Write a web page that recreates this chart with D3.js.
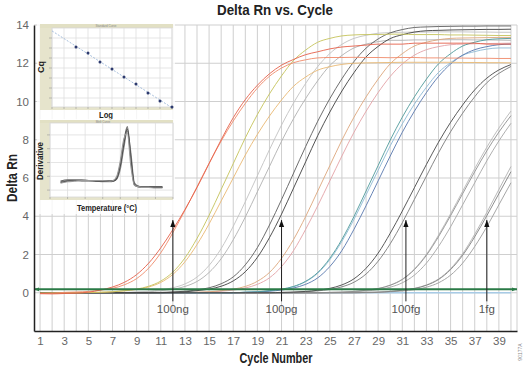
<!DOCTYPE html>
<html>
<head>
<meta charset="utf-8">
<script src="https://cdn.jsdelivr.net/npm/d3@7"></script>
<style>
  body { margin: 0; background: #fff; }
  svg { display: block; font-family: "Liberation Sans", Arial, sans-serif; }
</style>
</head>
<body>
<svg id="chart" width="526" height="368"></svg>
<script>
'use strict'

// ---- data ----
const cycles = [1,2,3,4,5,6,7,8,9,10,11,12,13,14,15,16,17,18,19,20,21,22,23,24,25,26,27,28,29,30,31,32,33,34,35,36,37,38,39,40]
const xTickLabels = [1,3,5,7,9,11,13,15,17,19,21,23,25,27,29,31,33,35,37,39]
const yTickLabels = [0,2,4,6,8,10,12,14]

const d100ngA = [-0.05,-0.06,-0.04,-0.02,0.03,0.14,0.3,0.55,0.95,1.55,2.35,3.3,4.35,5.5,6.75,8.0,9.15,10.1,10.85,11.45,11.9,12.2,12.45,12.6,12.75,12.85,12.9,12.95,13.0,13.0,13.0,13.05,13.05,13.05,13.05,13.05,13.05,13.0,13.0,13.0]
const d100ngB = [-0.04,-0.03,0.02,0.04,0.07,0.14,0.23,0.42,0.74,1.29,2.09,3.14,4.31,5.54,6.77,7.93,8.98,9.9,10.7,11.32,11.75,12.03,12.18,12.28,12.3,12.3,12.31,12.3,12.3,12.29,12.3,12.3,12.28,12.28,12.27,12.27,12.26,12.26,12.25,12.25]
const d10ngA = [-0.02,-0.02,-0.01,0,0.01,0.03,0.05,0.11,0.19,0.34,0.61,1.08,1.82,2.84,4.05,5.4,6.75,8.1,9.32,10.4,11.34,12.15,12.69,13.1,13.3,13.43,13.48,13.5,13.5,13.52,13.52,13.5,13.5,13.5,13.48,13.48,13.47,13.46,13.45,13.45]
const d10ngB = [-0.02,-0.01,-0.01,0,0.01,0.02,0.05,0.1,0.17,0.3,0.54,0.96,1.62,2.52,3.6,4.8,6.0,7.2,8.28,9.24,10.08,10.8,11.28,11.64,11.82,11.94,12.0,12.02,12.03,12.04,12.05,12.05,12.05,12.05,12.05,12.04,12.04,12.03,12.03,12.02]
const d1ngA = [0,0,0,0,0,0,0,0.02,0.04,0.08,0.15,0.26,0.46,0.82,1.43,2.31,3.47,4.76,6.12,7.48,8.77,9.93,10.95,11.83,12.51,12.99,13.3,13.46,13.57,13.6,13.62,13.63,13.63,13.64,13.64,13.64,13.63,13.63,13.62,13.62]
const d1ngB = [0,0,0,0,0,0,0,0,0.03,0.05,0.11,0.18,0.33,0.59,1.06,1.78,2.77,3.96,5.28,6.6,7.92,9.11,10.16,11.09,11.88,12.41,12.8,13.0,13.13,13.2,13.2,13.22,13.22,13.23,13.23,13.23,13.22,13.22,13.21,13.2]
const d100pgA = [0,0,0,0,0,0,0,0,0,0,0.02,0.04,0.08,0.15,0.26,0.47,0.83,1.46,2.36,3.54,4.87,6.26,7.65,8.97,10.15,11.19,12.09,12.79,13.27,13.59,13.76,13.87,13.9,13.92,13.93,13.94,13.94,13.95,13.95,13.95]
const d100pgB = [0,0,0,0,0,0,0,0,0,0,0,0.03,0.05,0.11,0.19,0.34,0.62,1.1,1.85,2.88,4.11,5.48,6.85,8.22,9.45,10.55,11.51,12.33,12.88,13.29,13.49,13.63,13.7,13.72,13.74,13.75,13.76,13.77,13.77,13.78]
const d10pgA = [0,0,0,0,0,0,0,0,0,0,0,0,0,0.03,0.05,0.11,0.19,0.33,0.6,1.06,1.8,2.79,3.99,5.32,6.65,7.98,9.18,10.24,11.17,11.97,12.5,12.9,13.1,13.23,13.3,13.32,13.33,13.34,13.35,13.35]
const d10pgB = [0,0,0,0,0,0,0,0,0,0,0,0,0,0.02,0.04,0.08,0.14,0.25,0.44,0.78,1.37,2.21,3.32,4.55,5.85,7.15,8.39,9.49,10.47,11.31,11.96,12.42,12.71,12.87,12.97,13.0,13.02,13.03,13.04,13.05]
const d1pgA = [0,0,0,0,0,0,0,0,0,0,0,0,0,0,0,0,0,0.03,0.05,0.11,0.19,0.33,0.6,1.06,1.8,2.79,3.99,5.32,6.65,7.98,9.18,10.24,11.17,11.97,12.5,12.9,13.1,13.23,13.28,13.3]
const d1pgB = [0,0,0,0,0,0,0,0,0,0,0,0,0,0,0,0,0,0.02,0.04,0.08,0.14,0.25,0.44,0.78,1.37,2.21,3.32,4.55,5.85,7.15,8.39,9.49,10.47,11.31,11.96,12.42,12.71,12.87,12.97,13.0]
const d1pgC = [0,0,0,0,0,0,0,0,0,0,0,0,0,0,0,0,0,0.03,0.05,0.1,0.18,0.32,0.58,1.02,1.73,2.69,3.84,5.12,6.4,7.68,8.83,9.86,10.75,11.52,12.03,12.42,12.61,12.74,12.8,12.8]
const d100fgA = [0,0,0,0,0,0,0,0,0,0,0,0,0,0,0,0,0,0,0,0,0.02,0.04,0.07,0.13,0.23,0.41,0.73,1.28,2.07,3.11,4.27,5.49,6.71,7.87,8.91,9.82,10.61,11.22,11.65,11.93]
const d100fgB = [0,0,0,0,0,0,0,0,0,0,0,0,0,0,0,0,0,0,0,0,0,0.02,0.05,0.1,0.17,0.31,0.55,0.98,1.65,2.56,3.66,4.88,6.1,7.32,8.42,9.39,10.25,10.98,11.47,11.83]
const d10fgA = [0,0,0,0,0,0,0,0,0,0,0,0,0,0,0,0,0,0,0,0,0,0,0,0,0.02,0.03,0.07,0.13,0.22,0.39,0.69,1.21,1.96,2.93,4.03,5.18,6.33,7.42,8.4,9.26]
const d10fgB = [0,0,0,0,0,0,0,0,0,0,0,0,0,0,0,0,0,0,0,0,0,0,0,0,0,0.02,0.05,0.09,0.16,0.29,0.52,0.92,1.55,2.42,3.45,4.6,5.75,6.9,7.94,8.86]
const d10fgC = [0,0,0,0,0,0,0,0,0,0,0,0,0,0,0,0,0,0,0,0,0,0,0,0,0.02,0.04,0.07,0.13,0.22,0.4,0.71,1.24,2.01,3.01,4.13,5.31,6.49,7.61,8.61,9.5]
const d1fgA = [0,0,0,0,0,0,0,0,0,0,0,0,0,0,0,0,0,0,0,0,0,0,0,0,0,0,0,0.02,0.03,0.07,0.13,0.22,0.39,0.69,1.21,1.96,2.93,4.03,5.18,6.33]
const d1fgB = [0,0,0,0,0,0,0,0,0,0,0,0,0,0,0,0,0,0,0,0,0,0,0,0,0,0,0,0,0.02,0.05,0.09,0.16,0.29,0.52,0.92,1.55,2.42,3.45,4.6,5.75]
const d1fgC = [0,0,0,0,0,0,0,0,0,0,0,0,0,0,0,0,0,0,0,0,0,0,0,0,0,0,0,0.02,0.04,0.07,0.13,0.23,0.41,0.72,1.26,2.04,3.06,4.2,5.4,6.6]
const ntc = [0,0,0,0,0,0,0,0,0,0,0,0,0,0,0,0,0,0,0,0,0,0,0,0,0,0,0,0,0,0,0,0,0,0,0,0,0,0,0,0]

const threshold = 0.18
const markerCycles = [12, 21, 31.3, 38]
const markerLabels = ['100ng', '100pg', '100fg', '1fg']
const markerTop = 3.8
const markerBottom = -0.45

// standard curve inset
const logQty = [2,3,4,5,6,7,8,9,10]
const cqVals = [34.4,32.0,28.4,25.6,22.4,19.6,16.0,12.8,10.4]

// melt curve inset
const meltTemps = [63,65,67,69,71,73,75,77,78,79,80,81,82,83,84,85,86,88,90,92]
const meltA = [0.21,0.23,0.24,0.24,0.24,0.23,0.23,0.23,0.23,0.27,0.45,0.76,0.99,0.55,0.18,0.15,0.14,0.14,0.14,0.14]
const meltB = [0.22,0.24,0.24,0.23,0.23,0.23,0.22,0.22,0.23,0.26,0.40,0.70,0.96,0.65,0.21,0.16,0.15,0.15,0.14,0.14]
const meltC = [0.20,0.22,0.23,0.24,0.24,0.24,0.24,0.23,0.24,0.30,0.52,0.84,0.93,0.45,0.17,0.15,0.14,0.14,0.13,0.13]
const meltD = [0.23,0.25,0.25,0.25,0.24,0.24,0.24,0.24,0.24,0.28,0.48,0.80,1.02,0.60,0.19,0.16,0.15,0.15,0.15,0.15]

// ---- styles ----
const curves = [d1ngB, d1ngA, d10fgC, d10fgB, d10fgA, d1fgC, d1fgB, d1fgA, d10pgB, d10pgA,
  d1pgC, d1pgB, d1pgA, d100fgB, d100fgA, d100pgA, d100pgB, d10ngB, d10ngA, d100ngB, d100ngA]
const curveColors = ['#b0b0b0', '#c2c2c2', '#b8b8b8', '#a6a6a6', '#8e8e8e', '#b0b0b0', '#9c9c9c', '#808080', '#e3a2a6', '#dca67c',
  '#8dbad6', '#5877ae', '#4e9a9a', '#7a7a7a', '#474747', '#5c5c5c', '#3e3e3e', '#e9b872', '#c5c35a', '#ef8a6a', '#e5604a']
const meltSeries = [meltB, meltD, meltA, meltC]
const meltColors = ['#8a8a8a', '#6a6a6a', '#4a4a4a', '#999']

const svg = d3.select('#chart')

const x = d3.scaleLinear().domain([0.5, 40.5]).range([34, 517])
const y = d3.scaleLinear().domain([-2, 14]).range([331, 25])

const defs = svg.append('defs')
function arrowMarker (id, color, w, h) {
  defs.append('marker')
    .attr('id', id)
    .attr('viewBox', '0 -3 8 6')
    .attr('refX', 8).attr('refY', 0)
    .attr('markerUnits', 'userSpaceOnUse')
    .attr('markerWidth', w).attr('markerHeight', h)
    .attr('orient', 'auto-start-reverse')
    .append('path').attr('d', 'M0,-3L8,0L0,3Z').attr('fill', color)
}
arrowMarker('arrowK', '#111', 7, 6)
arrowMarker('arrowG', '#2a7a46', 5, 5)

// grid
svg.append('g').selectAll('line.v')
  .data(cycles.concat([40.5]))
  .enter().append('line')
  .attr('x1', d => x(d)).attr('x2', d => x(d))
  .attr('y1', y(14)).attr('y2', y(-2))
  .attr('stroke', '#cfcfcf').attr('stroke-width', 1)

svg.append('g').selectAll('line.h')
  .data(yTickLabels)
  .enter().append('line')
  .attr('x1', x(0.5)).attr('x2', x(40.5))
  .attr('y1', d => y(d)).attr('y2', d => y(d))
  .attr('stroke', '#cfcfcf').attr('stroke-width', 1)

// amplification curves
const line = d3.line()
  .x((d, i) => x(cycles[i]))
  .y(d => y(d))
  .curve(d3.curveMonotoneX)

svg.append('path').datum(ntc)
  .attr('d', line).attr('fill', 'none')
  .attr('stroke', '#a8cbe6').attr('stroke-width', 1.4)

svg.append('g').selectAll('path')
  .data(curves)
  .enter().append('path')
  .attr('d', line)
  .attr('fill', 'none')
  .attr('stroke', (d, i) => curveColors[i])
  .attr('stroke-width', 0.9)

// threshold
svg.append('line')
  .attr('x1', x(0.5)).attr('x2', x(40.5))
  .attr('y1', y(threshold)).attr('y2', y(threshold))
  .attr('stroke', '#2a7a46').attr('stroke-width', 2)
  .attr('marker-start', 'url(#arrowG)')
  .attr('marker-end', 'url(#arrowG)')

// dilution markers
const marks = svg.append('g')
marks.selectAll('line')
  .data(markerCycles)
  .enter().append('line')
  .attr('x1', d => x(d)).attr('x2', d => x(d))
  .attr('y1', y(markerBottom)).attr('y2', y(markerTop))
  .attr('stroke', '#222').attr('stroke-width', 1)
  .attr('marker-end', 'url(#arrowK)')
marks.selectAll('text')
  .data(markerCycles)
  .enter().append('text')
  .attr('x', d => x(d)).attr('y', y(-1.05))
  .attr('text-anchor', 'middle')
  .attr('font-size', 11.5).attr('fill', '#555')
  .text((d, i) => markerLabels[i])

// axes
const yAxis = svg.append('g')
  .attr('transform', `translate(${x(0.5)},0)`)
  .call(d3.axisLeft(y).tickValues(yTickLabels).tickSize(0).tickSizeOuter(0).tickPadding(5))
yAxis.select('.domain').attr('stroke', '#222').attr('stroke-width', 1.5)
yAxis.selectAll('text').attr('font-size', 11.5).attr('fill', '#666').attr('font-family', '"Liberation Sans", Arial, sans-serif')

const xAxis = svg.append('g')
  .attr('transform', `translate(0,${y(-2)})`)
  .call(d3.axisBottom(x).tickValues(xTickLabels).tickSize(0).tickSizeOuter(0).tickPadding(6))
xAxis.select('.domain').attr('stroke', '#222').attr('stroke-width', 1.5)
xAxis.selectAll('text').attr('font-size', 11.5).attr('fill', '#666').attr('font-family', '"Liberation Sans", Arial, sans-serif')

// titles
svg.append('text')
  .attr('x', 275).attr('y', 14.5)
  .attr('text-anchor', 'middle')
  .attr('font-size', 15).attr('font-weight', 'bold').attr('fill', '#222')
  .attr('textLength', 116).attr('lengthAdjust', 'spacingAndGlyphs')
  .text('Delta Rn vs. Cycle')

svg.append('text')
  .attr('x', 276).attr('y', 363)
  .attr('text-anchor', 'middle')
  .attr('font-size', 15).attr('font-weight', 'bold').attr('fill', '#222')
  .attr('textLength', 73).attr('lengthAdjust', 'spacingAndGlyphs')
  .text('Cycle Number')

svg.append('text')
  .attr('transform', `translate(17,${(y(-2) + y(14)) / 2}) rotate(-90)`)
  .attr('text-anchor', 'middle')
  .attr('font-size', 15).attr('font-weight', 'bold').attr('fill', '#222')
  .attr('textLength', 48).attr('lengthAdjust', 'spacingAndGlyphs')
  .text('Delta Rn')

svg.append('text')
  .attr('transform', 'translate(522,352) rotate(-90)')
  .attr('text-anchor', 'middle')
  .attr('font-size', 5).attr('fill', '#888')
  .text('90177A')

// ---- inset 1: standard curve ----
const in1 = svg.append('g')
in1.append('rect').attr('x', 37).attr('y', 21).attr('width', 138).attr('height', 99)
  .attr('fill', '#fff').attr('opacity', 0.78)
in1.append('rect').attr('x', 40).attr('y', 24).attr('width', 12).attr('height', 86).attr('fill', '#e6e4cc')
in1.append('rect').attr('x', 40).attr('y', 24).attr('width', 133).attr('height', 4).attr('fill', '#e2e0c4')
in1.append('rect').attr('x', 40).attr('y', 107).attr('width', 133).attr('height', 3).attr('fill', '#e6e4cc')
in1.append('rect').attr('x', 52).attr('y', 28).attr('width', 120).attr('height', 79)
  .attr('fill', '#fff').attr('stroke', '#d6d6d6').attr('stroke-width', 0.8)

const inX = d3.scaleLinear().domain([0, 10]).range([52, 172])
const inY = d3.scaleLinear().domain([10, 42]).range([108, 28])
in1.append('g').selectAll('line')
  .data(d3.range(0, 11))
  .enter().append('line')
  .attr('x1', d => inX(d)).attr('x2', d => inX(d)).attr('y1', 28).attr('y2', 107)
  .attr('stroke', '#dedede').attr('stroke-width', 0.8)
in1.append('g').selectAll('line')
  .data([14, 18, 22, 26, 30, 34, 38])
  .enter().append('line')
  .attr('x1', 52).attr('x2', 172).attr('y1', d => inY(d)).attr('y2', d => inY(d))
  .attr('stroke', '#dedede').attr('stroke-width', 0.8)
in1.append('g').selectAll('line')
  .data(d3.range(0, 11))
  .enter().append('line')
  .attr('x1', d => inX(d)).attr('x2', d => inX(d)).attr('y1', 107).attr('y2', 109)
  .attr('stroke', '#999').attr('stroke-width', 0.6)
in1.append('g').selectAll('line')
  .data([14, 18, 22, 26, 30, 34, 38])
  .enter().append('line')
  .attr('x1', 49).attr('x2', 52).attr('y1', d => inY(d)).attr('y2', d => inY(d))
  .attr('stroke', '#999').attr('stroke-width', 0.6)

// regression line from the points
const mx = d3.mean(logQty), my = d3.mean(cqVals)
const slope = d3.sum(logQty, (v, i) => (v - mx) * (cqVals[i] - my)) / d3.sum(logQty, v => (v - mx) * (v - mx))
const icpt = my - slope * mx
in1.append('line')
  .attr('x1', inX(0)).attr('y1', inY(icpt))
  .attr('x2', inX(10)).attr('y2', inY(icpt + slope * 10))
  .attr('stroke', '#9db8d8').attr('stroke-width', 0.9).attr('stroke-dasharray', '2,1.5')
in1.append('g').selectAll('circle')
  .data(logQty)
  .enter().append('circle')
  .attr('cx', d => inX(d)).attr('cy', (d, i) => inY(cqVals[i]))
  .attr('r', 1.5).attr('fill', '#2d3a6e')

in1.append('text').attr('x', 106).attr('y', 27)
  .attr('text-anchor', 'middle').attr('font-size', 3).attr('fill', '#888').text('Standard Curve')
in1.append('text')
  .attr('transform', 'translate(44,67) rotate(-90)')
  .attr('text-anchor', 'middle')
  .attr('font-size', 9).attr('font-weight', 'bold').attr('fill', '#222')
  .text('Cq')
in1.append('text').attr('x', 106).attr('y', 118)
  .attr('text-anchor', 'middle')
  .attr('font-size', 9).attr('font-weight', 'bold').attr('fill', '#222')
  .attr('textLength', 14).attr('lengthAdjust', 'spacingAndGlyphs')
  .text('Log')

// ---- inset 2: melt curve ----
const in2 = svg.append('g')
in2.append('rect').attr('x', 37).attr('y', 119).attr('width', 138).attr('height', 95)
  .attr('fill', '#fff').attr('opacity', 0.78)
in2.append('rect').attr('x', 40).attr('y', 120).attr('width', 10).attr('height', 80).attr('fill', '#e6e4cc')
in2.append('rect').attr('x', 40).attr('y', 120).attr('width', 133).attr('height', 3).attr('fill', '#e2e0c4')
in2.append('rect').attr('x', 40).attr('y', 197).attr('width', 133).attr('height', 3).attr('fill', '#e6e4cc')
in2.append('rect').attr('x', 50).attr('y', 123).attr('width', 123).attr('height', 74)
  .attr('fill', '#fff').attr('stroke', '#d6d6d6').attr('stroke-width', 0.8)

const mX = d3.scaleLinear().domain([60, 95]).range([50, 173])
const mY = d3.scaleLinear().domain([0, 1]).range([197, 128])
const meltGridT = [60, 65, 70, 75, 80, 85, 90, 95]
const meltGridD = [0.1, 0.3, 0.5, 0.7, 0.9]
in2.append('g').selectAll('line')
  .data(meltGridT)
  .enter().append('line')
  .attr('x1', d => mX(d)).attr('x2', d => mX(d)).attr('y1', 123).attr('y2', 197)
  .attr('stroke', '#dedede').attr('stroke-width', 0.8)
in2.append('g').selectAll('line')
  .data(meltGridD)
  .enter().append('line')
  .attr('x1', 50).attr('x2', 173).attr('y1', d => mY(d)).attr('y2', d => mY(d))
  .attr('stroke', '#dedede').attr('stroke-width', 0.8)
in2.append('g').selectAll('line')
  .data(meltGridT)
  .enter().append('line')
  .attr('x1', d => mX(d)).attr('x2', d => mX(d)).attr('y1', 197).attr('y2', 199)
  .attr('stroke', '#999').attr('stroke-width', 0.6)
in2.append('g').selectAll('line')
  .data(meltGridD)
  .enter().append('line')
  .attr('x1', 47).attr('x2', 50).attr('y1', d => mY(d)).attr('y2', d => mY(d))
  .attr('stroke', '#999').attr('stroke-width', 0.6)

const meltLine = d3.line()
  .x((d, i) => mX(meltTemps[i]))
  .y(d => mY(d))
  .curve(d3.curveMonotoneX)
in2.append('g').selectAll('path')
  .data(meltSeries)
  .enter().append('path')
  .attr('d', meltLine)
  .attr('fill', 'none')
  .attr('stroke', (d, i) => meltColors[i])
  .attr('stroke-width', 1.1)

in2.append('text').attr('x', 103).attr('y', 122.5)
  .attr('text-anchor', 'middle').attr('font-size', 3).attr('fill', '#888').text('Melt Curve')
in2.append('text')
  .attr('transform', 'translate(43,161) rotate(-90)')
  .attr('text-anchor', 'middle')
  .attr('font-size', 8.5).attr('font-weight', 'bold').attr('fill', '#222')
  .attr('textLength', 38).attr('lengthAdjust', 'spacingAndGlyphs')
  .text('Derivative')
in2.append('text').attr('x', 107).attr('y', 211)
  .attr('text-anchor', 'middle')
  .attr('font-size', 9).attr('font-weight', 'bold').attr('fill', '#222')
  .attr('textLength', 60).attr('lengthAdjust', 'spacingAndGlyphs')
  .text('Temperature (°C)')
</script>
</body>
</html>
